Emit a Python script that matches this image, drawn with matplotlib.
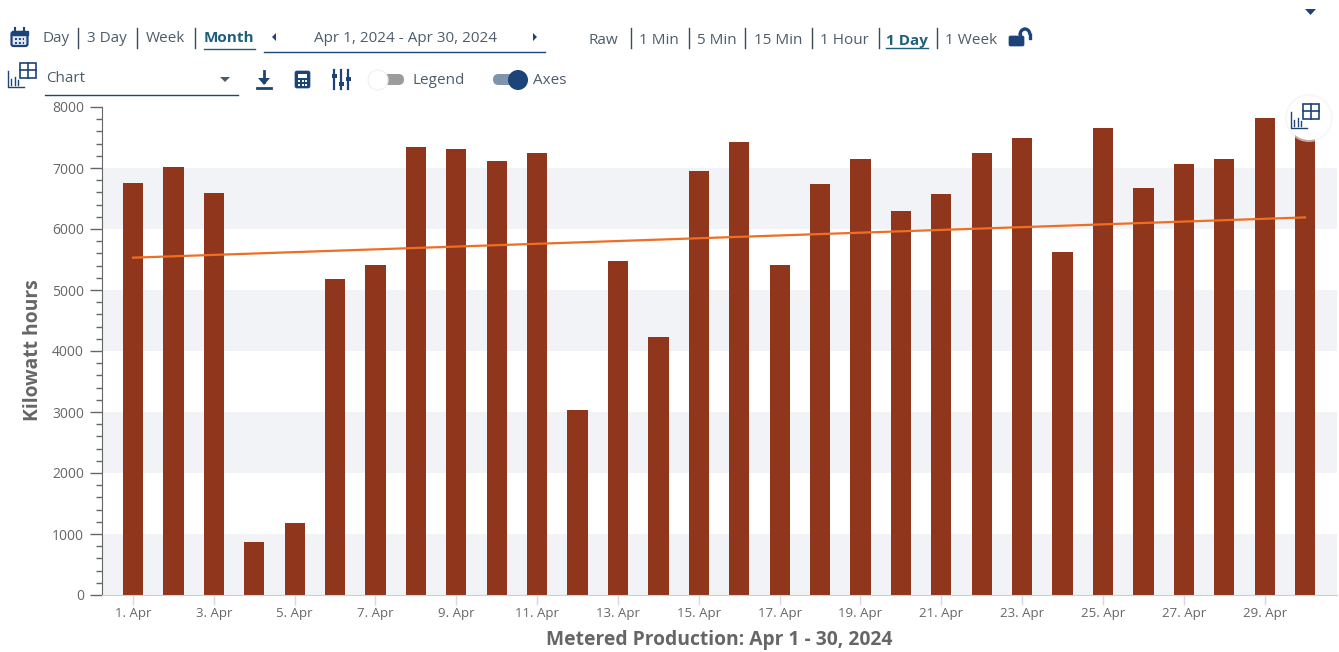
import matplotlib
matplotlib.use('Agg')
import matplotlib.pyplot as plt
from matplotlib.patches import Rectangle, Circle, FancyBboxPatch, Polygon, Arc
from matplotlib.ticker import MultipleLocator

plt.rcParams['font.family'] = ['Open Sans', 'DejaVu Sans']

# data
days = list(range(1, 31))
kwh = [6750, 7020, 6590, 870, 1180, 5180, 5410, 7340, 7310, 7110,
       7240, 3030, 5475, 4230, 6950, 7425, 5410, 6735, 7145, 6295,
       6575, 7245, 7490, 5625, 7655, 6670, 7065, 7145, 7815, 7620]
trend_days = [1, 30]
trend_kwh = [5530, 6190]
tick_days = [1, 3, 5, 7, 9, 11, 13, 15, 17, 19, 21, 23, 25, 27, 29]
tick_labels = ['%d. Apr' % d for d in tick_days]
band_starts = [0, 2000, 4000, 6000]

W, H = 1339, 652
BLUE = '#1c4479'
TEAL = '#1f5f7d'
TXT = '#4d5c6b'

fig = plt.figure(figsize=(W / 100, H / 100), dpi=100, facecolor='white')

# main chart, placed in pixels
left, right, top, bottom = 102, 1337, 107, 595
ax = fig.add_axes([left / W, 1 - bottom / H, (right - left) / W, (bottom - top) / H])
for b in band_starts:
    ax.axhspan(b, b + 1000, color='#f2f3f6', lw=0, zorder=0)
ax.bar(days, kwh, width=0.5, color='#8f361c', zorder=2)
ax.plot(trend_days, trend_kwh, color='#ee6f24', lw=1.6, zorder=3)
ax.set_xlim(0.233, 30.79)
ax.set_ylim(0, 8000)

ax.yaxis.set_major_locator(MultipleLocator(1000))
ax.yaxis.set_minor_locator(MultipleLocator(200))
ax.tick_params(axis='y', which='major', length=8.5, width=1, color='#666666',
               labelsize=10, labelcolor='#666666', pad=4.5)
ax.tick_params(axis='y', which='minor', length=4, width=1, color='#666666')
ax.set_xticks(tick_days)
ax.set_xticklabels(tick_labels)
ax.tick_params(axis='x', length=7, width=1, color='#d5dae2',
               labelsize=9.5, labelcolor='#666666', pad=1.5)
for s in ['top', 'right']:
    ax.spines[s].set_visible(False)
ax.spines['left'].set_color('#666666')
ax.spines['bottom'].set_color('#c8d0da')
ax.set_ylabel('Kilowatt hours', fontsize=13.9, fontweight='bold', color='#666666')
ax.yaxis.set_label_coords(-(102 - 33) / (right - left), (bottom - 350) / (bottom - top), transform=ax.transAxes)
ax.yaxis.label.set_va('center')
ax.set_xlabel('Metered Production: Apr 1 - 30, 2024', fontsize=13.9, fontweight='bold',
              color='#666666')
ax.xaxis.set_label_coords((719 - left) / (right - left), -(640 - bottom) / (bottom - top), transform=ax.transAxes)
ax.xaxis.label.set_va('center')

# toolbar overlay, in pixels with y going down
ov = fig.add_axes([0, 0, 1, 1], facecolor='none')
ov.set_xlim(0, W)
ov.set_ylim(H, 0)
ov.axis('off')


def label(x, y, s, bold=False, color=TXT, size=11, ha='left'):
    ov.text(x, y, s, fontsize=size, color=color, ha=ha, va='center',
            fontweight='bold' if bold else 'normal')


def vline(x, y0=28, y1=48):
    ov.plot([x, x], [y0, y1], color='#3a4a5a', lw=1)


def table_icon(x, y, s=1.0):
    # little bar chart with a table beside it
    ov.plot([x, x, x + 14 * s], [y, y + 14 * s, y + 14 * s], color=BLUE, lw=1)
    for dx, h in [(3, 5), (6, 7), (9, 4)]:
        ov.plot([x + dx * s] * 2, [y + 12 * s, y + (12 - h) * s], color=BLUE, lw=1)
    ov.add_patch(Rectangle((x + 10 * s, y - 7 * s), 14 * s, 13 * s, fc='white', ec=BLUE, lw=1.2))
    ov.plot([x + 17 * s] * 2, [y - 7 * s, y + 6 * s], color=BLUE, lw=1.2)
    ov.plot([x + 10 * s, x + 24 * s], [y - 1 * s] * 2, color=BLUE, lw=1.2)


# top row
ov.add_patch(FancyBboxPatch((11.5, 32), 16, 14, boxstyle='round,pad=0,rounding_size=2', fc='#dfe6ef', ec=BLUE, lw=1.6))
ov.add_patch(Rectangle((11.5, 31), 16, 4, fc=BLUE, ec=BLUE))
ov.plot([15, 15], [28, 32], color=BLUE, lw=1.5)
ov.plot([24, 24], [28, 32], color=BLUE, lw=1.5)
for yy in (39, 43):
    ov.plot([15, 24], [yy, yy], color=BLUE, lw=1.4, ls=(0, (1, 1)))

label(43, 38.5, 'Day')
vline(78)
label(87, 38.5, '3 Day')
vline(137)
label(146, 38.5, 'Week')
vline(195)
label(204, 38.5, 'Month', bold=True, color=TEAL)
ov.plot([204, 255], [49, 49], color=TEAL, lw=1)
ov.add_patch(Polygon([[272, 37], [276, 33], [276, 41]], fc=BLUE, ec='none'))
label(405, 38.5, 'Apr 1, 2024 - Apr 30, 2024', ha='center')
ov.add_patch(Polygon([[537, 37], [533, 33], [533, 41]], fc=BLUE, ec='none'))
ov.plot([264, 545], [52, 52], color=BLUE, lw=1)

label(588, 40.5, 'Raw')
vline(631)
label(639, 40.5, '1 Min')
vline(689)
label(697, 40.5, '5 Min')
vline(745)
label(754, 40.5, '15 Min')
vline(812)
label(820, 40.5, '1 Hour')
vline(879)
label(886, 40.5, '1 Day', bold=True, color=TEAL)
ov.plot([886, 928], [48, 48], color=TEAL, lw=1)
vline(937)
label(945, 40.5, '1 Week')

# open lock
ov.add_patch(FancyBboxPatch((1009, 36), 15, 10, boxstyle='round,pad=0,rounding_size=1.5', fc=BLUE, ec=BLUE, lw=0.5))
ov.add_patch(Arc((1025, 35), 10, 12, theta1=180, theta2=360, ec=BLUE, lw=2.4))
ov.plot([1020, 1020], [35, 37], color=BLUE, lw=2.4)
ov.plot([1030, 1030], [35, 38], color=BLUE, lw=2.4)
ov.add_patch(Polygon([[1305, 9], [1316, 9], [1310.5, 15]], fc=BLUE, ec='none'))

# second row
table_icon(8, 71, 1.15)
label(46, 79, 'Chart')
ov.add_patch(Polygon([[220, 77], [230, 77], [225, 82]], fc=TXT, ec='none'))
ov.plot([45, 238], [95, 95], color=BLUE, lw=1)

# download icon
ov.plot([264, 264], [71, 82], color=BLUE, lw=2)
ov.add_patch(Polygon([[258, 78], [270, 78], [264, 85]], fc=BLUE, ec='none'))
ov.plot([257, 271], [88, 88], color=BLUE, lw=2)

# calculator icon
ov.add_patch(FancyBboxPatch((295, 71), 15, 17, boxstyle='round,pad=0,rounding_size=2', fc=BLUE, ec=BLUE, lw=0.5))
ov.add_patch(Rectangle((298, 74), 9, 3.5, fc='white', ec='none'))
for xx in (298.5, 302.5, 306):
    for yy in (80.5, 84.5):
        ov.add_patch(Rectangle((xx - 1, yy - 1), 2, 2, fc='white', ec='none'))

# sliders icon
for xx, yy in [(334, 76), (341, 84), (348, 79)]:
    ov.plot([xx, xx], [70, 89], color=BLUE, lw=1.6)
    ov.add_patch(Rectangle((xx - 2.5, yy - 2), 5, 4, fc=BLUE, ec='none'))

# legend toggle, off
ov.add_patch(FancyBboxPatch((377, 74), 27, 11, boxstyle='round,pad=0,rounding_size=5.5', fc='#9c9c9c', ec='none'))
ov.add_patch(Circle((378, 80), 10, fc='white', ec='#efefef', lw=0.8))
label(412, 80.5, 'Legend')

# axes toggle, on
ov.add_patch(FancyBboxPatch((493, 74), 27, 11, boxstyle='round,pad=0,rounding_size=5.5', fc='#7f93ad', ec='none'))
ov.add_patch(Circle((518, 80), 10, fc=BLUE, ec='none'))
label(533, 80, 'Axes')

# round button over the last bar
ov.add_patch(Circle((1309, 118), 24, fc='#f2f3f6', ec='none', alpha=0.6))
ov.add_patch(Circle((1309, 118), 22, fc='white', ec='none'))
table_icon(1291, 112, 1.15)

fig.savefig('out.png', dpi=100)
